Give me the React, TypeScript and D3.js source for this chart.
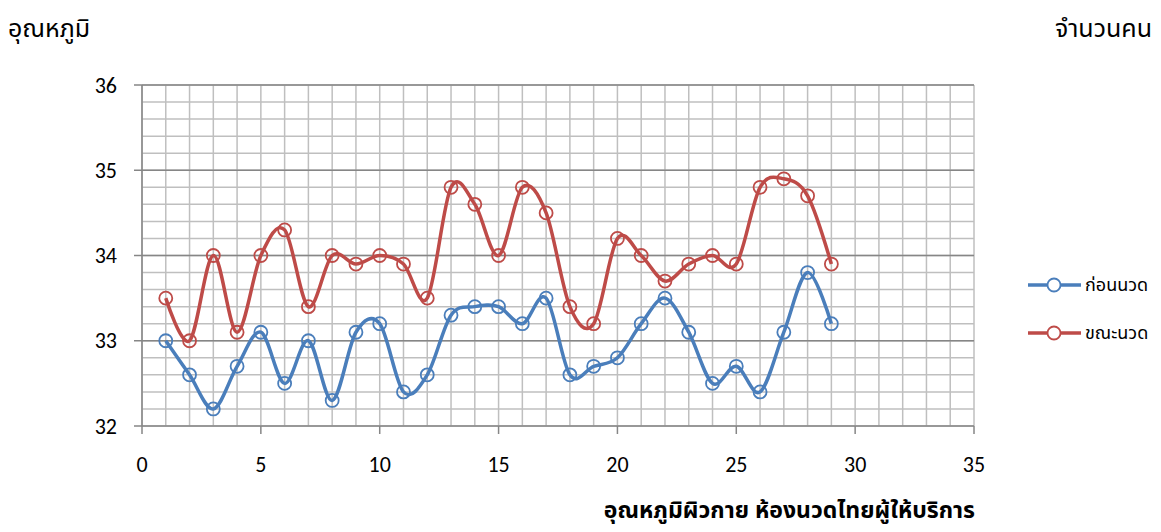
import React from "react";
import * as d3 from "d3";

const days = d3.range(1, 30);
const beforeMassage = [33.0, 32.6, 32.2, 32.7, 33.1, 32.5, 33.0, 32.3, 33.1, 33.2, 32.4, 32.6, 33.3, 33.4, 33.4, 33.2, 33.5, 32.6, 32.7, 32.8, 33.2, 33.5, 33.1, 32.5, 32.7, 32.4, 33.1, 33.8, 33.2];
const duringMassage = [33.5, 33.0, 34.0, 33.1, 34.0, 34.3, 33.4, 34.0, 33.9, 34.0, 33.9, 33.5, 34.8, 34.6, 34.0, 34.8, 34.5, 33.4, 33.2, 34.2, 34.0, 33.7, 33.9, 34.0, 33.9, 34.8, 34.9, 34.7, 33.9];
const xTicks = [0, 5, 10, 15, 20, 25, 30, 35];
const yTicks = [32, 33, 34, 35, 36];
const seriesNames = ["ก่อนนวด", "ขณะนวด"];
const seriesColors = ["#4a7ebb", "#be4b48"];

const W = 1161, H = 532;
const thai = "'Noto Sans Thai', 'Noto Sans', Tahoma, sans-serif";
const num = "Carlito, 'Liberation Sans', Arial, sans-serif";

export default function App() {
  const x = d3.scaleLinear().domain([0, 35]).range([142, 974]);
  const y = d3.scaleLinear().domain([32, 36]).range([426, 85]);
  const minorX = d3.range(0, 36, 1);
  const minorY = d3.range(0, 21).map((i) => 32 + i * 0.2);
  const line = d3
    .line<number>()
    .x((_, i) => x(days[i]))
    .y((d) => y(d))
    .curve(d3.curveCatmullRom.alpha(0));
  const series = [beforeMassage, duringMassage];

  return (
    <svg width={W} height={H} style={{ position: "absolute", left: 0, top: 0 }}>
      <rect width={W} height={H} fill="#fff" />
      {minorX.map((v) => (
        <line key={"mx" + v} x1={x(v)} x2={x(v)} y1={y(36)} y2={y(32)} stroke="#bfbfbf" strokeWidth={1.5} />
      ))}
      {minorY.map((v, i) => (
        <line key={"my" + i} x1={x(0)} x2={x(35)} y1={y(v)} y2={y(v)} stroke="#bfbfbf" strokeWidth={1.5} />
      ))}
      {yTicks.map((v) => (
        <line key={"My" + v} x1={x(0) - 8} x2={x(35)} y1={y(v)} y2={y(v)} stroke="#868686" strokeWidth={1.5} />
      ))}
      <line x1={x(0)} x2={x(0)} y1={y(36)} y2={y(32)} stroke="#868686" strokeWidth={1.5} />
      {xTicks.map((v) => (
        <line key={"xt" + v} x1={x(v)} x2={x(v)} y1={y(32)} y2={y(32) + 8} stroke="#868686" strokeWidth={1.5} />
      ))}
      {yTicks.map((v) => (
        <text key={"yl" + v} x={117} y={y(v)} dy="0.35em" textAnchor="end" fontFamily={num} fontSize={22} fill="#000">
          {v}
        </text>
      ))}
      {xTicks.map((v) => (
        <text key={"xl" + v} x={x(v)} y={464} dy="0.35em" textAnchor="middle" fontFamily={num} fontSize={22} fill="#000">
          {v}
        </text>
      ))}
      {series.map((s, si) => (
        <g key={"s" + si}>
          <path d={line(s) || ""} fill="none" stroke={seriesColors[si]} strokeWidth={3.5} />
          {s.map((v, i) => (
            <circle key={i} cx={x(days[i])} cy={y(v)} r={6.5} fill="none" stroke={seriesColors[si]} strokeWidth={1.8} />
          ))}
        </g>
      ))}
      {seriesNames.map((n, i) => (
        <g key={"lg" + i} transform={`translate(0, ${285 + i * 48})`}>
          <line x1={1028} x2={1081} y1={0} y2={0} stroke={seriesColors[i]} strokeWidth={3.5} />
          <circle cx={1054} cy={0} r={6.5} fill="#fff" stroke={seriesColors[i]} strokeWidth={1.8} />
          <text x={1085} y={0} dy="0.35em" fontFamily={thai} fontSize={18} fill="#000">
            {n}
          </text>
        </g>
      ))}
      <text x={8} y={28} dy="0.35em" fontFamily={thai} fontSize={25} fill="#000">
        อุณหภูมิ
      </text>
      <text x={1152} y={28} dy="0.35em" textAnchor="end" fontFamily={thai} fontSize={25} fill="#000">
        จำนวนคน
      </text>
      <text x={975} y={510} dy="0.35em" textAnchor="end" fontFamily={thai} fontSize={23} fontWeight="bold" fill="#000">
        อุณหภูมิผิวกาย ห้องนวดไทยผู้ให้บริการ
      </text>
    </svg>
  );
}
